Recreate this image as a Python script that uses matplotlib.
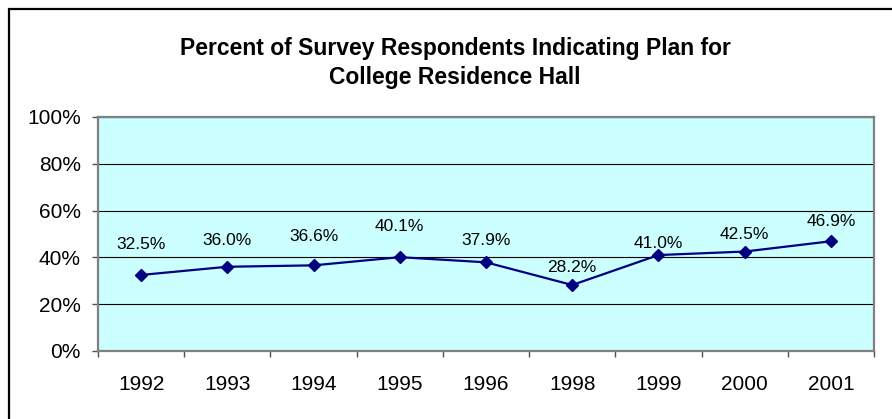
import matplotlib
matplotlib.use("Agg")
import matplotlib.pyplot as plt
from matplotlib.patches import Rectangle

# data
years = ["1992", "1993", "1994", "1995", "1996", "1998", "1999", "2000", "2001"]
pct = [32.5, 36.0, 36.6, 40.1, 37.9, 28.2, 41.0, 42.5, 46.9]
point_labels = ["32.5%", "36.0%", "36.6%", "40.1%", "37.9%", "28.2%", "41.0%", "42.5%", "46.9%"]
y_ticks = [0, 20, 40, 60, 80, 100]

# label lift above each marker, in pixels (the original staggers them)
label_lift = [30, 26, 29, 31, 22, 18, 12, 17, 20]

plt.rcParams["font.family"] = ["Liberation Sans", "DejaVu Sans"]

W, H = 892, 419
fig = plt.figure(figsize=(W / 100, H / 100), dpi=100)
fig.patch.set_facecolor("white")

# outer chart frame (runs off right and bottom edges)
fig.add_artist(Rectangle((9 / W, -0.05), 1.2, 1.05 - 9 / H, transform=fig.transFigure,
                         fill=False, edgecolor="black", lw=1.6))

ax = fig.add_axes([98 / W, 1 - 351 / H, (874 - 98) / W, (351 - 117) / H])
ax.set_facecolor("#CCFFFF")

x = list(range(len(years)))
ax.plot(x, pct, color="#000080", lw=1.6, marker="D", ms=6.2,
        markerfacecolor="#000080", markeredgecolor="#000080", zorder=3)

for xi, yi, lab, lift in zip(x, pct, point_labels, label_lift):
    ax.annotate(lab, (xi, yi), xytext=(0, lift), textcoords="offset pixels",
                ha="center", va="center", fontsize=12.5, color="black", zorder=4)

ax.set_xlim(-0.5, len(years) - 0.5)
ax.set_ylim(0, 100)

ax.set_yticks(y_ticks)
ax.set_yticklabels(["%d%%" % v for v in y_ticks])
ax.yaxis.grid(True, color="black", lw=0.8)
ax.set_axisbelow(True)

# category axis: ticks between categories, labels centred
ax.set_xticks([i - 0.5 for i in range(len(years) + 1)])
ax.set_xticklabels([])
ax.set_xticks(x, minor=True)
ax.set_xticklabels(years, minor=True)
ax.tick_params(axis="x", which="major", direction="out", length=4.5, width=1,
               color="#505050")
ax.tick_params(axis="x", which="minor", length=0, pad=17, labelsize=15)
ax.tick_params(axis="y", direction="out", length=4.5, width=1, color="#505050",
               pad=8, labelsize=15)

for s in ax.spines.values():
    s.set_color("#808080")
    s.set_linewidth(1.6)

fig.text(455 / W, 1 - 37 / H,
         "Percent of Survey Respondents Indicating Plan for\nCollege Residence Hall",
         ha="center", va="top", fontsize=16.5, fontweight="bold", linespacing=1.35)

fig.savefig("out.png", dpi=100)
